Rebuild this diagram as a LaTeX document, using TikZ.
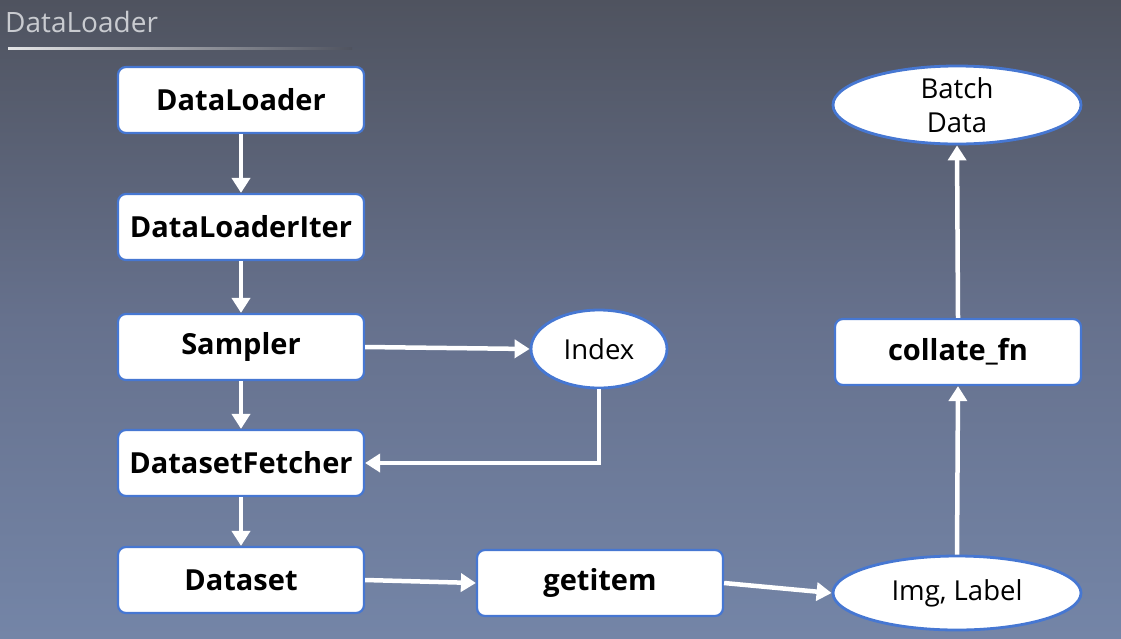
\documentclass[tikz,border=0pt]{standalone}
\usepackage{fontspec}
\setmainfont{Open Sans}
\usetikzlibrary{arrows.meta,shapes.geometric}
\definecolor{bgtop}{HTML}{4F535F}
\definecolor{bgmid}{HTML}{66718D}
\definecolor{bgbot}{HTML}{7485A7}
\definecolor{edgeblue}{HTML}{4677D2}
\definecolor{titlegray}{HTML}{C9CBD0}
\begin{document}
\begin{tikzpicture}[x=1pt,y=-1pt,
  box/.style={draw=edgeblue,line width=2.2pt,fill=white,rounded corners=8pt,
    minimum width=246pt,minimum height=66pt,inner sep=0pt,
    font=\fontsize{29}{34}\selectfont\bfseries},
  oval/.style={ellipse,draw=edgeblue,line width=2.8pt,fill=white,inner sep=0pt,
    align=center,font=\fontsize{27.5}{34}\selectfont},
  flow/.style={draw=white,line width=4.5pt,-{Triangle[width=18pt,length=15pt]}}]
\useasboundingbox (0,0) rectangle (1121,638);
\shade[top color=bgtop,bottom color=bgbot,middle color=bgmid] (0,0) rectangle (1121,638);
\shade[left color=white!85!bgtop,right color=bgtop] (8,47) rectangle (352,49.5);
\node[anchor=base west,inner sep=0pt,text=titlegray,font=\fontsize{28}{30}\selectfont] (title) at (5,32) {DataLoader};
\node[box] (dl) at (241,100) {DataLoader};
\node[box] (dli) at (241,227) {DataLoaderIter};
\node[box] (smp) at (241,347) {Sampler};
\node[box] (dsf) at (241,463) {DatasetFetcher};
\node[box] (ds) at (241,580) {Dataset};
\node[box] (gi) at (600,583) {getitem};
\node[box] (cf) at (958,352) {collate\_fn};
\node[oval,minimum width=136pt,minimum height=78pt] (idx) at (599,349) {Index};
\node[oval,minimum width=248pt,minimum height=76pt] (bd) at (957,105) {Batch\\Data};
\node[oval,minimum width=248pt,minimum height=74pt] (il) at (957,593) {Img, Label};
\draw[flow] (dl) -- (dli);
\draw[flow] (dli) -- (smp);
\draw[flow] (smp) -- (dsf);
\draw[flow] (dsf) -- (ds);
\draw[flow] (smp.east) -- (idx.west);
\draw[flow] (idx.south) |- (dsf.east);
\draw[flow] (ds.east) -- (gi.west);
\draw[flow] (gi.east) -- (il.west);
\draw[flow] (il.north) -- (cf.south);
\draw[flow] (cf.north) -- (bd.south);
\end{tikzpicture}
\end{document}
